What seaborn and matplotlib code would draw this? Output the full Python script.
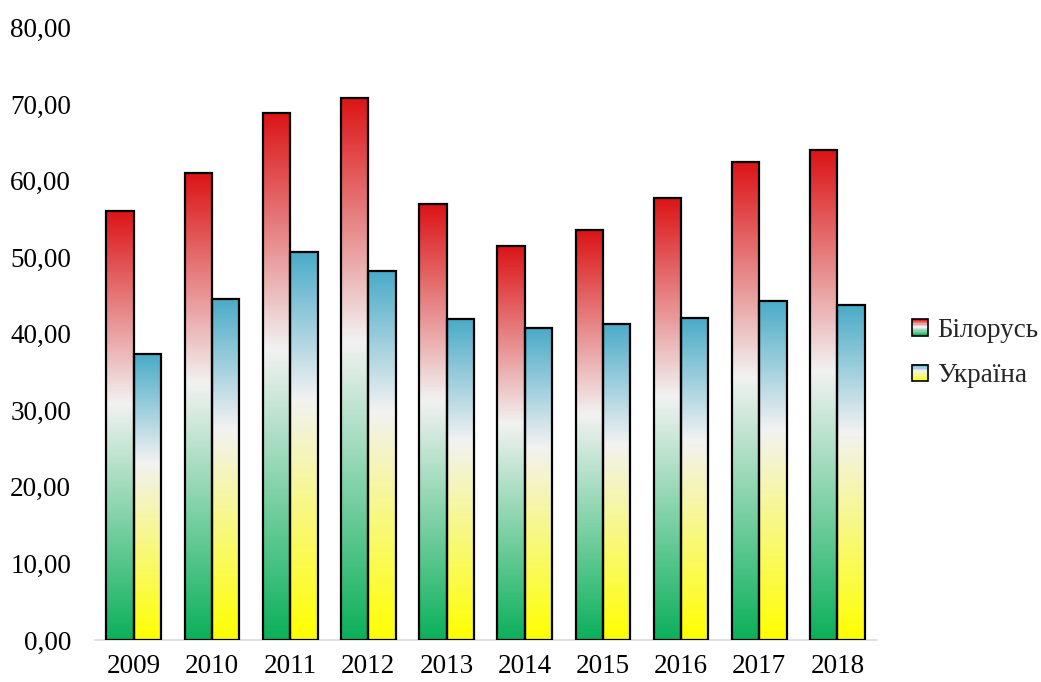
import numpy as np
import pandas as pd
import matplotlib
matplotlib.use("Agg")
import matplotlib.pyplot as plt
import seaborn as sns
from matplotlib.colors import LinearSegmentedColormap
from matplotlib.patches import Rectangle
from matplotlib.legend_handler import HandlerBase

years = ["2009", "2010", "2011", "2012", "2013", "2014", "2015", "2016", "2017", "2018"]
belarus = [56.1, 61.0, 68.9, 70.8, 56.9, 51.4, 53.5, 57.8, 62.5, 64.0]
ukraine = [37.3, 44.6, 50.7, 48.2, 41.9, 40.7, 41.3, 42.0, 44.3, 43.7]
countries = ["Білорусь", "Україна"]

df = pd.DataFrame({
    "year": years * 2,
    "value": belarus + ukraine,
    "country": [countries[0]] * len(years) + [countries[1]] * len(years),
})

# gradient colour maps, bottom -> top of each bar
cmaps = {
    countries[0]: LinearSegmentedColormap.from_list(
        "by", [(0, "#0bb05a"), (0.55, "#f2f2f2"), (1, "#dc1416")]),
    countries[1]: LinearSegmentedColormap.from_list(
        "ua", [(0, "#ffff00"), (0.62, "#f2f2f2"), (1, "#4aabc8")]),
}

sns.set_style("white")
plt.rcParams["font.family"] = ["Liberation Serif", "DejaVu Serif"]

fig = plt.figure(figsize=(10.41, 6.82), dpi=100)
ax = fig.add_axes([0.091, 0.0616, 0.751, 0.898])

sns.barplot(data=df, x="year", y="value", hue="country", hue_order=countries,
            order=years, width=0.7, gap=0, ax=ax, legend=False)

grad = np.linspace(0, 1, 256).reshape(-1, 1)
n = len(years)
for i, patch in enumerate(ax.patches[:2 * n]):
    c = countries[i // n]
    x0, y0 = patch.get_x(), patch.get_y()
    w, h = patch.get_width(), patch.get_height()
    im = ax.imshow(grad, cmap=cmaps[c], origin="lower", aspect="auto",
                   extent=[x0, x0 + w, y0, y0 + h], zorder=2, interpolation="bicubic")
    im.set_clip_path(patch)
    patch.set_facecolor("none")
    patch.set_edgecolor("black")
    patch.set_linewidth(1.6)
    patch.set_zorder(3)

ax.set_xlim(-0.5, 9.5)
ax.set_ylim(0, 80)
ax.set_yticks(np.arange(0, 81, 10))
ax.set_yticklabels([f"{v:.2f}".replace(".", ",") for v in np.arange(0, 81, 10)])
ax.set_xlabel("")
ax.set_ylabel("")
ax.tick_params(axis="both", length=0, labelsize=19.5, colors="black")
ax.tick_params(axis="y", pad=17)
ax.tick_params(axis="x", pad=10)
for s in ["top", "right", "left"]:
    ax.spines[s].set_visible(False)
ax.spines["bottom"].set_color("#d9d9d9")
ax.spines["bottom"].set_linewidth(1.2)


class GradHandler(HandlerBase):
    def __init__(self, cmap):
        super().__init__()
        self.cmap = cmap

    def create_artists(self, legend, orig_handle, xdescent, ydescent,
                       width, height, fontsize, trans):
        side = height * 1.0
        x = -xdescent + width - side
        y = -ydescent
        arts = []
        k = 12
        for j in range(k):
            r = Rectangle((x, y + side * j / k), side, side / k + 0.2,
                          facecolor=self.cmap((j + 0.5) / k), edgecolor="none",
                          transform=trans)
            arts.append(r)
        arts.append(Rectangle((x, y), side, side, facecolor="none",
                              edgecolor="black", linewidth=1.2, transform=trans))
        return arts


handles = [Rectangle((0, 0), 1, 1) for _ in countries]
fig.legend(handles, countries, loc="center left", bbox_to_anchor=(0.877, 0.482),
           frameon=False, fontsize=19.5, handlelength=0.55, handleheight=0.55,
           handletextpad=0.35, labelspacing=0.75, borderpad=0, borderaxespad=0,
           handler_map={handles[0]: GradHandler(cmaps[countries[0]]),
                        handles[1]: GradHandler(cmaps[countries[1]])})

fig.savefig("out.png", dpi=100)
